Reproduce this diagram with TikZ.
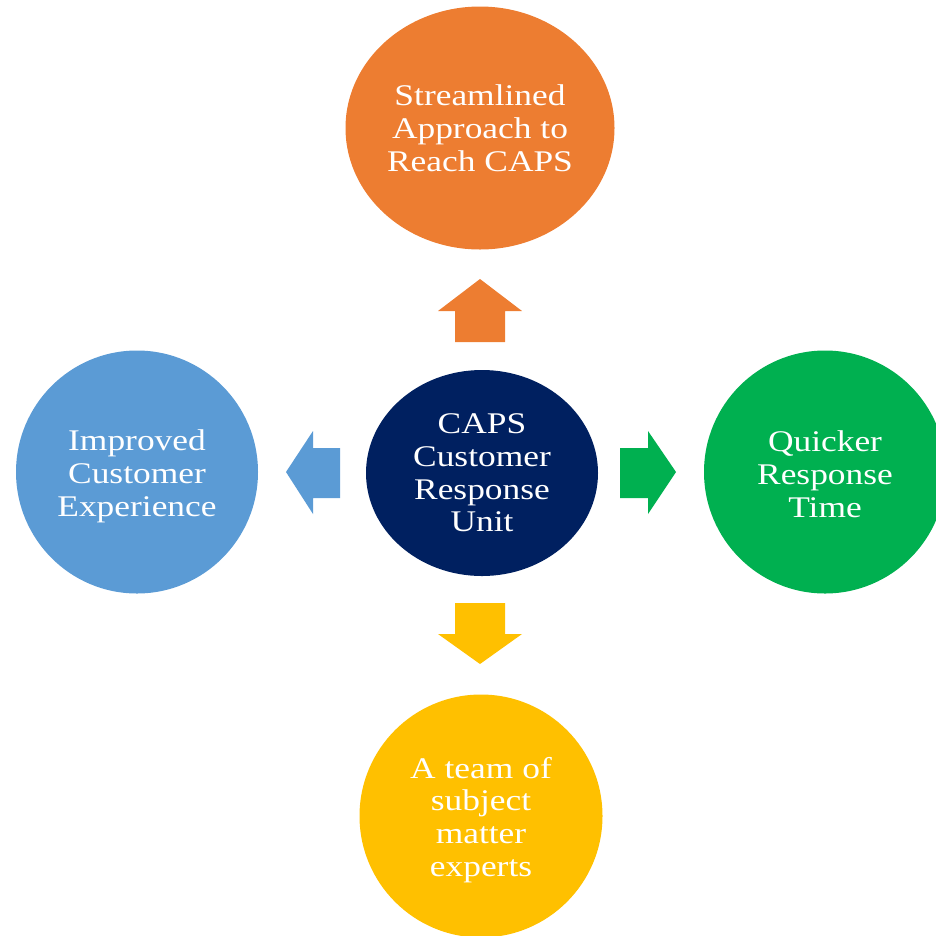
\documentclass[tikz,border=0pt]{standalone}
\usepackage{fontspec}
\setmainfont{Liberation Serif}[FakeStretch=1.18]
\usetikzlibrary{shapes.geometric}
\definecolor{corange}{HTML}{ED7D31}
\definecolor{cblue}{HTML}{5B9BD5}
\definecolor{cgreen}{HTML}{00B050}
\definecolor{cyellow}{HTML}{FFC000}
\definecolor{cnavy}{HTML}{002060}
\tikzset{
  bubble/.style={ellipse, inner sep=0pt},
  txt/.style={inner sep=0pt, text=white, align=center,
    font=\fontsize{30}{32.8}\selectfont},
}
\begin{document}
\begin{tikzpicture}[x=1pt,y=-1pt]
\useasboundingbox (0,0) rectangle (936,935);
\clip (0,0) rectangle (936,935);
\node[bubble, fill=corange, minimum width=269pt, minimum height=243pt] (top) at (480,128) {};
\node[txt] (topT) at (top.center) {Streamlined\\Approach to\\Reach CAPS};
\node[bubble, fill=cnavy, minimum width=232pt, minimum height=206pt] (mid) at (482,473) {};
\node[txt] (midT) at (mid.center) {CAPS\\Customer\\Response\\Unit};
\node[bubble, fill=cblue, minimum width=242pt, minimum height=243pt] (left) at (137,472) {};
\node[txt] (leftT) at ([yshift=-4pt]left.center) {Improved\\Customer\\Experience};
\node[bubble, fill=cgreen, minimum width=242pt, minimum height=243pt] (right) at (825,472) {};
\node[txt] (rightT) at ([yshift=-2pt]right.center) {Quicker\\Response\\Time};
\node[bubble, fill=cyellow, minimum width=243pt, minimum height=243pt] (bot) at (481,816) {};
\node[txt] (botT) at ([yshift=-4pt]bot.center) {A team of\\subject\\matter\\experts};
% block arrows
\fill[corange] (455,342) -- (455,311) -- (438,311) -- (480,279) -- (522,311) -- (505,311) -- (505,342) -- cycle;
\fill[cyellow] (455,603) -- (455,634) -- (438,634) -- (480,664) -- (522,634) -- (505,634) -- (505,603) -- cycle;
\fill[cblue] (340,448) -- (313,448) -- (313,431) -- (286,472) -- (313,514) -- (313,498) -- (340,498) -- cycle;
\fill[cgreen] (620,448) -- (648,448) -- (648,431) -- (676,472) -- (648,514) -- (648,498) -- (620,498) -- cycle;
\end{tikzpicture}
\end{document}
